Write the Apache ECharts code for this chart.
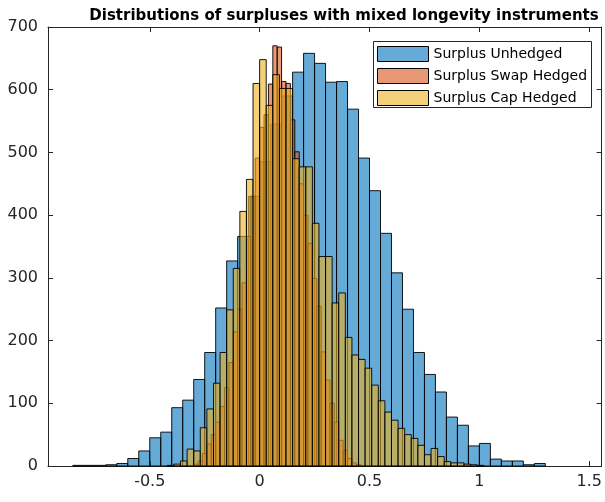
<!DOCTYPE html>
<html><head><meta charset="utf-8">
<script src="https://cdn.jsdelivr.net/npm/echarts@6/dist/echarts.min.js"></script>
<style>html,body{margin:0;padding:0;background:#fff}#c{width:605px;height:502px}</style>
</head><body><div id="c"></div>
<script>
const titleText = "Distributions of surpluses with mixed longevity instruments";
const seriesNames = ["Surplus Unhedged", "Surplus Swap Hedged", "Surplus Cap Hedged"];

// Unhedged: bins of 0.05 starting at -0.85
const unhedgedStart = -0.85, unhedgedWidth = 0.05;
const unhedgedCounts = [1,1,1,2,4,12,24,45,54,93,105,138,181,252,327,366,430,485,545,590,628,658,642,612,613,569,491,439,371,308,250,181,146,118,78,65,32,36,11,8,8,2,4];

// Swap hedged: bins of 0.02 starting at -0.30
const swapStart = -0.30, swapWidth = 0.02;
const swapCounts = [3,8,20,35,50,70,95,125,165,214,250,292,366,430,491,540,560,609,670,668,613,610,552,501,450,400,355,299,255,182,137,100,70,41,25,12,5,2];

// Cap hedged: bins of 0.03 starting at -0.42
const capStart = -0.42, capWidth = 0.03;
const capCounts = [1,3,8,27,24,61,91,132,181,249,315,406,457,610,648,575,624,602,602,490,477,477,387,334,334,260,276,205,177,170,156,129,104,86,73,60,50,44,33,18,28,15,7,5,5,3,2,1];

const xTicks = [-0.5, 0, 0.5, 1, 1.5];
const xMin = -0.963, xMax = 1.556;
const yMin = 0, yMax = 700, yStep = 100;

const fills = ["rgba(0,114,189,0.6)", "rgba(217,83,25,0.6)", "rgba(237,177,32,0.6)"];
const axisColor = "#262626";

function bins(start, width, counts) {
  return counts.map((c, i) => [start + i * width, start + (i + 1) * width, c]);
}

function histSeries(name, data, fill) {
  return {
    type: "custom",
    name: name,
    data: data,
    encode: { x: [0, 1], y: 2 },
    itemStyle: { color: fill, borderColor: "#000", borderWidth: 1 },
    renderItem: function (params, api) {
      const a = api.coord([api.value(0), api.value(2)]);
      const b = api.coord([api.value(1), 0]);
      return {
        type: "rect",
        shape: { x: a[0], y: a[1], width: b[0] - a[0], height: b[1] - a[1] },
        style: { fill: fill, stroke: "rgba(0,0,0,0.9)", lineWidth: 1 }
      };
    }
  };
}

const chart = echarts.init(document.getElementById("c"), null, { renderer: "canvas" });
const font = "DejaVu Sans, Verdana, sans-serif";
const xAxisBase = {
  type: "value", min: xMin, max: xMax,
  splitLine: { show: false },
  axisLine: { show: true, onZero: false, lineStyle: { color: axisColor, width: 1 } },
  axisTick: { show: true, inside: true, length: 5, customValues: xTicks, lineStyle: { color: axisColor } }
};
const yAxisBase = {
  type: "value", min: yMin, max: yMax, interval: yStep,
  splitLine: { show: false },
  axisLine: { show: true, onZero: false, lineStyle: { color: axisColor, width: 1 } },
  axisTick: { show: true, inside: true, length: 5, lineStyle: { color: axisColor } }
};
chart.setOption({
  animation: false,
  backgroundColor: "#fff",
  title: {
    text: titleText, left: 339, top: 4, textAlign: "center",
    textStyle: { fontFamily: font, fontSize: 15, fontWeight: "bold", color: "#000" }
  },
  grid: { left: 48, right: 1, top: 27, bottom: 36, containLabel: false },
  xAxis: [
    Object.assign({}, xAxisBase, {
      position: "bottom",
      axisLabel: { show: true, customValues: xTicks, margin: 8, fontFamily: font, fontSize: 16, color: axisColor }
    }),
    Object.assign({}, xAxisBase, { position: "top", axisLabel: { show: false } })
  ],
  yAxis: [
    Object.assign({}, yAxisBase, {
      position: "left",
      axisLabel: { show: true, margin: 10, fontFamily: font, fontSize: 16, color: axisColor }
    }),
    Object.assign({}, yAxisBase, { position: "right", axisLabel: { show: false } })
  ],
  graphic: [{
    type: "rect", left: 373, top: 41, z: 5,
    shape: { width: 218, height: 66 },
    style: { fill: "#fff", stroke: axisColor, lineWidth: 1 }
  }],
  legend: {
    left: 377, top: 46, orient: "vertical", padding: 0, z: 10,
    itemWidth: 51, itemHeight: 15, itemGap: 6, icon: "rect",
    textStyle: { fontFamily: font, fontSize: 14, color: "#000" },
    data: seriesNames.map((n, i) => ({ name: n, itemStyle: { color: fills[i], borderColor: "#000", borderWidth: 1 } }))
  },
  series: [
    histSeries(seriesNames[0], bins(unhedgedStart, unhedgedWidth, unhedgedCounts), fills[0]),
    histSeries(seriesNames[1], bins(swapStart, swapWidth, swapCounts), fills[1]),
    histSeries(seriesNames[2], bins(capStart, capWidth, capCounts), fills[2])
  ]
});
</script>
</body></html>
